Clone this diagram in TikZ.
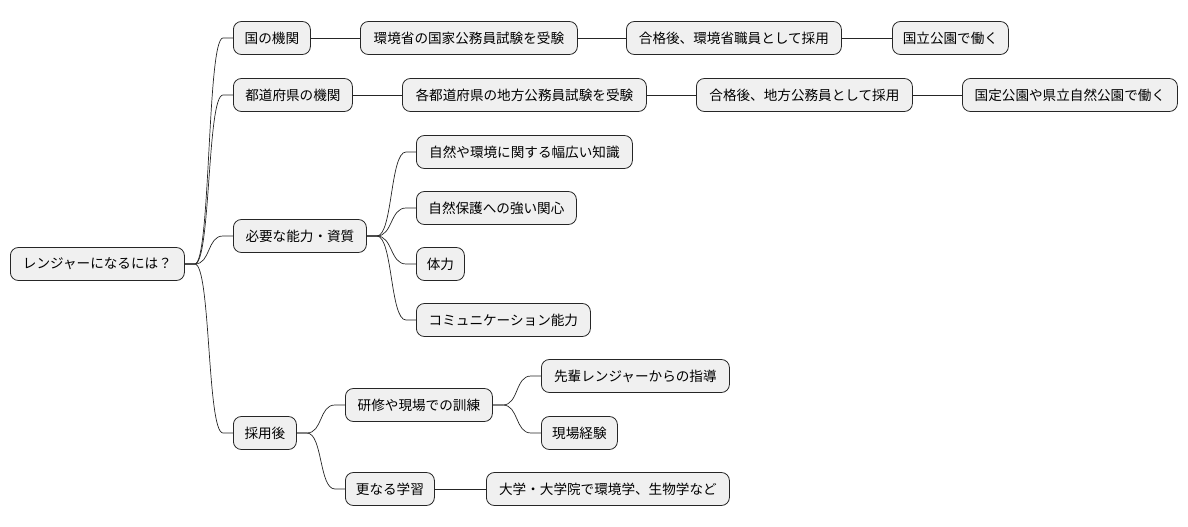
\documentclass[tikz,border=0pt]{standalone}
\usepackage{fontspec}
\usetikzlibrary{calc}
\setmainfont{Noto Sans CJK JP}
\begin{document}
\begin{tikzpicture}[x=1pt,y=-1pt,
  box/.style={draw=black!85,fill=black!6,rounded corners=8pt,line width=0.8pt,minimum height=33pt,inner xsep=4pt,font=\fontsize{13.6}{15}\selectfont,anchor=west},
  ln/.style={line width=0.7pt,black!85}]
\useasboundingbox (0,0) rectangle (1188,527);
\node[box,minimum width=174pt] (r) at (10,264) {レンジャーになるには？};
\node[box,minimum width=77pt] (a) at (233,38) {国の機関};
\node[box,minimum width=217pt] (a1) at (360,38) {環境省の国家公務員試験を受験};
\node[box,minimum width=215pt] (a2) at (626,38) {合格後、環境省職員として採用};
\node[box,minimum width=116pt] (a3) at (892,38) {国立公園で働く};
\node[box,minimum width=119pt] (b) at (233,95) {都道府県の機関};
\node[box,minimum width=244pt] (b1) at (402,95) {各都道府県の地方公務員試験を受験};
\node[box,minimum width=216pt] (b2) at (696,95) {合格後、地方公務員として採用};
\node[box,minimum width=215pt] (b3) at (962,95) {国定公園や県立自然公園で働く};
\node[box,minimum width=133pt] (c) at (233,236) {必要な能力・資質};
\node[box,minimum width=216pt] (c1) at (416,152) {自然や環境に関する幅広い知識};
\node[box,minimum width=160pt] (c2) at (416,208) {自然保護への強い関心};
\node[box,minimum width=48pt] (c3) at (416,264) {体力};
\node[box,minimum width=174pt] (c4) at (416,320) {コミュニケーション能力};
\node[box,minimum width=63pt] (d) at (233,433) {採用後};
\node[box,minimum width=147pt] (d1) at (345,405) {研修や現場での訓練};
\node[box,minimum width=188pt] (d11) at (541,376) {先輩レンジャーからの指導};
\node[box,minimum width=76pt] (d12) at (541,433) {現場経験};
\node[box,minimum width=89pt] (d2) at (345,489) {更なる学習};
\node[box,minimum width=243pt] (d21) at (486,489) {大学・大学院で環境学、生物学など};
\def\cur#1#2{\draw[ln] (#1.east) -- ++(10,0) .. controls +(16,0) and ($(#2.west)+(-26,0)$) .. ($(#2.west)+(-10,0)$) -- (#2.west);}
\foreach \p/\c in {r/a,r/b,r/c,r/d,c/c1,c/c2,c/c3,c/c4,d/d1,d/d2,d1/d11,d1/d12}{\cur{\p}{\c}}
\foreach \p/\c in {a/a1,a1/a2,a2/a3,b/b1,b1/b2,b2/b3,d2/d21}{\draw[ln] (\p) -- (\c);}
\end{tikzpicture}
\end{document}
